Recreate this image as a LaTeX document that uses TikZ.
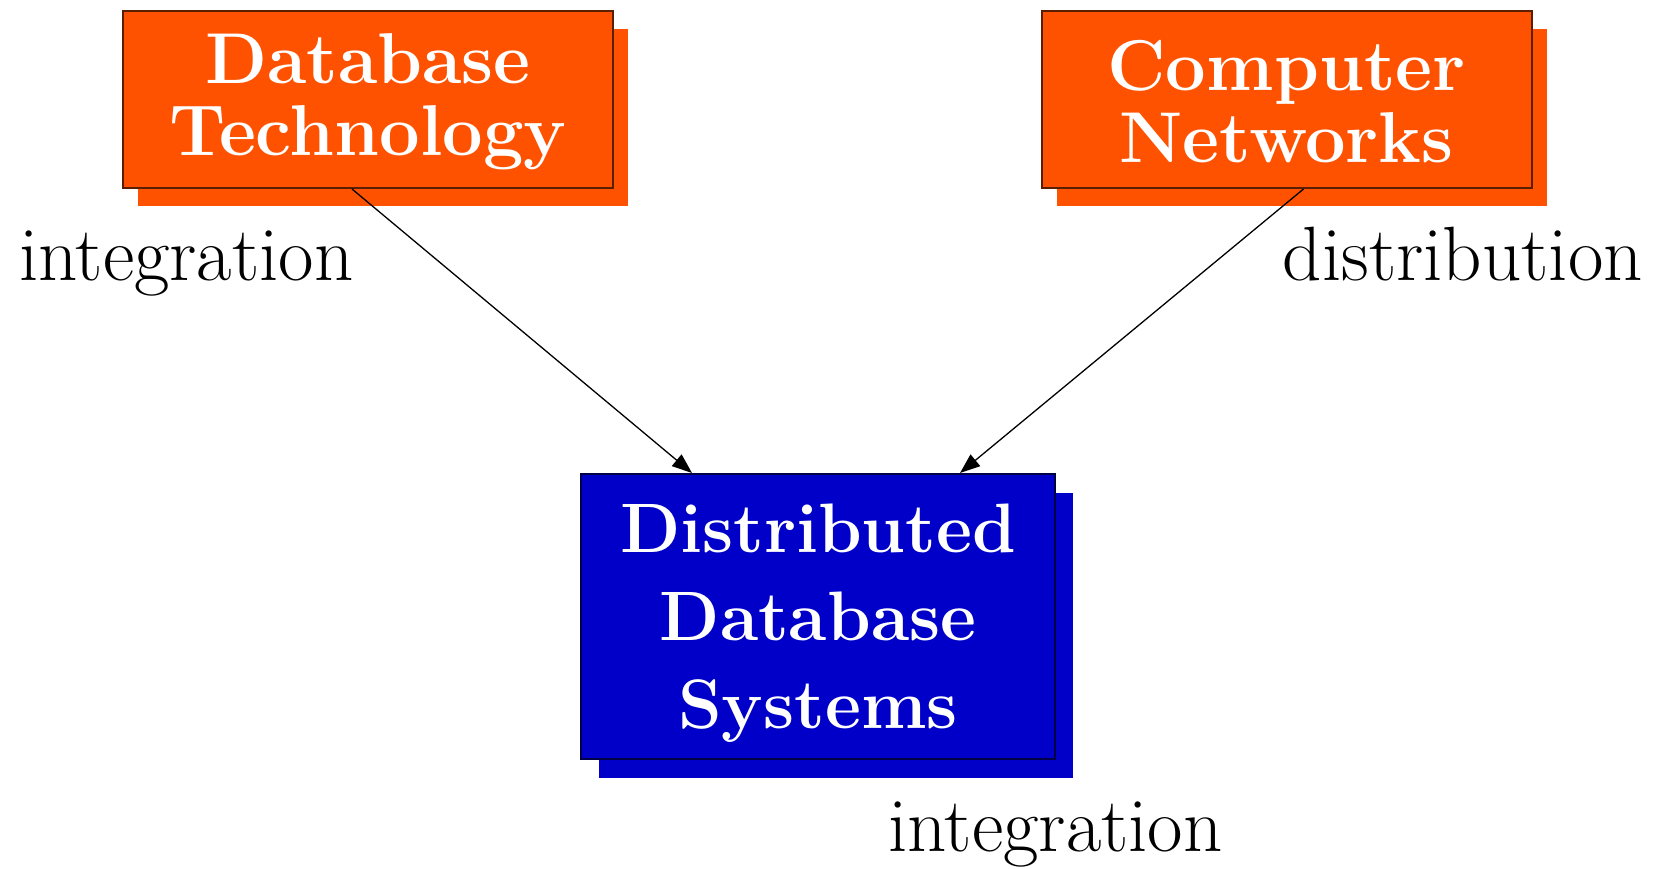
\documentclass[tikz,border=0pt]{standalone}
\usetikzlibrary{shadows,arrows.meta}
\definecolor{boxorange}{RGB}{255,82,0}
\definecolor{orangeedge}{RGB}{90,30,0}
\definecolor{boxblue}{RGB}{0,0,200}
\definecolor{blueedge}{RGB}{0,0,70}
\tikzset{
  topbox/.style={rectangle, fill=boxorange, draw=orangeedge, line width=2pt,
    minimum width=490pt, minimum height=177pt, inner sep=0pt, align=center,
    text=white, font=\fontsize{72}{72}\selectfont\bfseries,
    drop shadow={shadow xshift=15pt, shadow yshift=-18pt, fill=boxorange, opacity=1, draw=none}},
  bluebox/.style={rectangle, fill=boxblue, draw=blueedge, line width=2pt,
    minimum width=474pt, minimum height=285pt, inner sep=0pt, align=center,
    text=white, font=\fontsize{70}{88}\selectfont\bfseries,
    drop shadow={shadow xshift=18pt, shadow yshift=-19pt, fill=boxblue, opacity=1, draw=none}},
  lbl/.style={inner sep=0pt, font=\fontsize{77}{84}\selectfont, text=black},
  arr/.style={-{Triangle[length=20pt,width=15pt]}, line width=1.3pt, draw=black}
}
\begin{document}
\begin{tikzpicture}[x=1pt,y=-1pt]
\useasboundingbox (0,0) rectangle (1657,868);
\node[topbox] (db) at (368,99.5) {\rule{0pt}{54pt}Database\\Technology};
\node[topbox] (cn) at (1286.5,99.5) {\rule{0pt}{54pt}Computer\\Networks};
\node[bluebox] (ddb) at (818,616.5) {\rule{0pt}{62pt}Distributed\\Database\\Systems};
\node[lbl, anchor=base west] (l1) at (19,280) {integration};
\node[lbl, anchor=base east] (l2) at (1643,280) {distribution};
\node[lbl, anchor=base west] (l3) at (888,851) {integration};
\draw[arr] ([xshift=-16pt]db.south) -- ([xshift=-126pt]ddb.north);
\draw[arr] ([xshift=17pt]cn.south) -- ([xshift=142pt]ddb.north);
\end{tikzpicture}
\end{document}
